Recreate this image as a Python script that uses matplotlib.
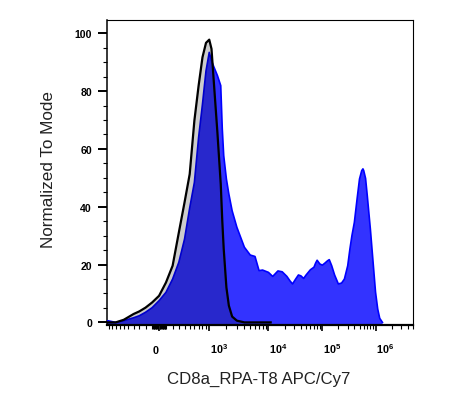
import numpy as np
import matplotlib
matplotlib.use("Agg")
import matplotlib.pyplot as plt
from matplotlib.transforms import ScaledTranslation

plt.rcParams['font.family'] = ['Liberation Sans', 'DejaVu Sans']
plt.rcParams['mathtext.fontset'] = 'custom'
plt.rcParams['mathtext.rm'] = 'Liberation Sans'
plt.rcParams['mathtext.bf'] = 'Liberation Sans:bold'

# ---------------- data (fluorescence intensity vs normalized count) ----------------
sample_x = [-1110, -1000, -800, -600, -400, -300, -200, -100, 0, 100, 200, 300, 400,
            500, 600, 700, 800, 900, 1000, 1100, 1200, 1400, 1600, 1700, 1800, 2000,
            2200, 2500, 3000, 4000, 5000, 6000, 7000, 8000, 1e4, 1.2e4, 1.5e4, 1.8e4,
            2.2e4, 2.5e4, 2.8e4, 3.2e4, 3.6e4, 4e4, 4.5e4, 5e4, 6e4, 7e4, 7.5e4, 8e4,
            9e4, 1e5, 1.1e5, 1.25e5, 1.35e5, 1.5e5, 1.7e5, 2e5, 2.3e5, 2.6e5, 3e5,
            3.3e5, 3.6e5, 4e5, 4.5e5, 5e5, 5.5e5, 5.8e5, 6e5, 6.5e5, 7e5, 8e5, 9e5,
            1e6, 1.1e6, 1.2e6, 1.35e6]
sample_y = [0.6, 0.5, 0.0, 0.6, 1.6, 2.3, 3.5, 5.1, 7.5, 10.4, 15.0, 20.8, 28.8,
            39.6, 48.4, 64.0, 75.5, 87.0, 93.4, 90.5, 88.6, 85.4, 81.9, 67.0, 57.7, 49.6,
            44.4, 38.6, 32.9, 26.0, 23.3, 22.8, 17.9, 18.1, 17.3, 15.9, 17.8, 17.5,
            15.9, 14.4, 13.3, 15.0, 16.4, 16.1, 15.2, 16.4, 18.2, 19.1, 20.5, 21.5,
            20.2, 19.8, 20.4, 21.3, 21.7, 19.6, 16.4, 13.3, 13.6, 15.0, 19.6,
            25.4, 30.0, 34.6, 42.7, 49.6, 52.5, 53.1, 52.5, 49.8, 43.8, 32.3, 20.8,
            10.5, 4.6, 1.4, 0.0]

control_x = [-1110, -1000, -800, -600, -400, -300, -200, -100, 0, 100, 200, 300, 400,
             500, 600, 700, 800, 900, 1000, 1100, 1200, 1400, 1600, 1700, 1800, 2000,
             2200, 2500, 3000, 4000, 1.1e4]
control_y = [0.0, 0.0, 0.0, 0.9, 2.9, 3.8, 5.1, 6.9, 9.2, 13.8, 19.6, 31.1, 41.5,
             51.3, 69.8, 81.9, 91.7, 96.7, 97.8, 94.6, 84.2, 65.7, 47.9, 35.2, 25.4, 12.1,
             5.8, 2.0, 0.6, 0.0, 0.0]

x_major_ticks = [0, 1e3, 1e4, 1e5, 1e6]
x_major_labels = ['0', r'$\mathbf{10^{3}}$', r'$\mathbf{10^{4}}$',
                  r'$\mathbf{10^{5}}$', r'$\mathbf{10^{6}}$']
y_major_ticks = [0, 20, 40, 60, 80, 100]
x_label = 'CD8a_RPA-T8 APC/Cy7'
y_label = 'Normalized To Mode'

# ---------------- biexponential-like scale ----------------
W = 500.0
_anchor_vals = np.array([-1e7, -1e3, 0.0, 1e3, 1e4, 1e5, 1e6, 1e7])
_anchor_pos = np.array([-262.0, -50.0, 0.0, 50.0, 109.0, 162.7, 215.7, 268.7])
_anchor_t = np.arcsinh(_anchor_vals / W)


def forward(x):
    x = np.asarray(x, dtype=float)
    return np.interp(np.arcsinh(x / W), _anchor_t, _anchor_pos)


def inverse(u):
    u = np.asarray(u, dtype=float)
    return W * np.sinh(np.interp(u, _anchor_pos, _anchor_t))


# ---------------- figure ----------------
fig = plt.figure(figsize=(4.53, 4.10), dpi=100)
ax = fig.add_axes([106.7 / 453, (410 - 325.7) / 410, 306 / 453, 304.7 / 410])
ax.set_xscale('function', functions=(forward, inverse))
ax.set_xlim(-1110, 5e6)
ymin, ymax = -0.8, 104.6
ax.set_ylim(ymin, ymax)

# sample (blue)
ax.fill_between(sample_x, sample_y, ymin, facecolor=(0, 0, 1, 0.8), edgecolor='none', zorder=2)
ax.plot(sample_x, sample_y, color='#0000FF', lw=1.2, zorder=3)
# control (grey / black)
ax.fill_between(control_x, control_y, ymin, facecolor=(0, 0, 0, 0.2), edgecolor='none', zorder=4)
ax.plot(control_x, control_y, color='black', lw=1.6, zorder=5)

# spines
ax.spines['left'].set_linewidth(1.1)
ax.spines['bottom'].set_linewidth(1.6)
ax.spines['top'].set_linewidth(0.8)
ax.spines['right'].set_linewidth(0.8)

# x ticks
minor = ([-m * 10 ** k for k in (1, 2) for m in range(1, 10)] + [-1000] +
         [m * 10 ** k for k in (1, 2) for m in range(1, 10)] +
         [m * 10 ** k for k in (3, 4, 5, 6) for m in range(2, 10)])
minor = [v for v in minor if -1110 <= v <= 5e6]
ax.set_xticks(x_major_ticks)
ax.set_xticklabels(x_major_labels)
ax.set_xticks(minor, minor=True)
ax.tick_params(axis='x', which='major', direction='out', length=4.3, width=1.2,
               pad=16, labelsize=7.8, colors='black')
ax.tick_params(axis='x', which='minor', direction='out', length=2.9, width=0.8)
for i, lab in enumerate(ax.get_xticklabels()):
    lab.set_verticalalignment('baseline')
    lab.set_fontweight('bold')
    if i == 0:
        lab.set_horizontalalignment('center')
        lab.set_transform(lab.get_transform() + ScaledTranslation(-3 / 100, 0, fig.dpi_scale_trans))
    else:
        lab.set_horizontalalignment('left')
        lab.set_transform(lab.get_transform() + ScaledTranslation(0.5 / 100, 0, fig.dpi_scale_trans))

# y ticks
ax.set_yticks(y_major_ticks)
ax.set_yticks(np.arange(5, 101, 5), minor=True)
ax.tick_params(axis='y', which='major', direction='out', length=6.5, width=1.4,
               pad=4.0, labelsize=7.6)
ax.tick_params(axis='y', which='minor', direction='out', length=2.9, width=0.8)
for lab in ax.get_yticklabels():
    lab.set_fontweight('bold')

ax.set_xlabel(x_label, fontsize=12.1, color='#222222')
ax.set_ylabel(y_label, fontsize=12.3, color='#222222')
ax.xaxis.set_label_coords(0.498, -0.152)
ax.yaxis.set_label_coords(-0.166, 0.511)

fig.savefig('out.png', dpi=100)
